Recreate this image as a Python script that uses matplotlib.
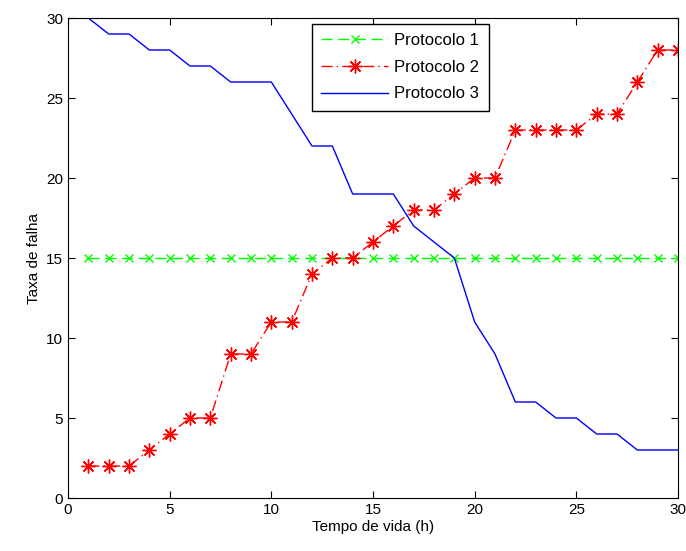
import numpy as np
import matplotlib.pyplot as plt

# hours 1..30
tempo = list(range(1, 31))
protocolo1 = [15] * 30
protocolo2 = [2, 2, 2, 3, 4, 5, 5, 9, 9, 11, 11, 14, 15, 15, 16,
              17, 18, 18, 19, 20, 20, 23, 23, 23, 23, 24, 24, 26, 28, 28]
protocolo3 = [30, 29, 29, 28, 28, 27, 27, 26, 26, 26, 24, 22, 22, 19, 19,
              19, 17, 16, 15, 11, 9, 6, 6, 5, 5, 4, 4, 3, 3, 3]

plt.rcParams['font.family'] = ['Liberation Sans', 'DejaVu Sans']

fig = plt.figure(figsize=(6.86, 5.51), dpi=100)
ax = fig.add_axes([68 / 686, 53 / 551, 610 / 686, 480 / 551])

# matlab-like asterisk marker
asterisk = (8, 2, 0)

ax.plot(tempo, protocolo1, color='#00ff00', linestyle='--', dashes=(8, 4),
        marker='x', markersize=6, linewidth=1, label='Protocolo 1')
ax.plot(tempo, protocolo2, color='#ff0000', linestyle='-.', dashes=(8, 3, 1, 3),
        marker=asterisk, markersize=10, markeredgewidth=1, linewidth=1,
        label='Protocolo 2')
ax.plot(tempo, protocolo3, color='#0000ff', linestyle='-', linewidth=1,
        label='Protocolo 3')

ax.set_xlim(0, 30)
ax.set_ylim(0, 30)
ax.set_xticks(np.arange(0, 31, 5))
ax.set_yticks(np.arange(0, 31, 5))
ax.tick_params(direction='in', top=True, right=True, labelsize=11, length=5)
ax.set_xlabel('Tempo de vida (h)', fontsize=11, labelpad=2)
ax.set_ylabel('Taxa de falha', fontsize=11, labelpad=4)

leg = ax.legend(loc='upper left', bbox_to_anchor=(0.4, 0.9875), fontsize=12,
                fancybox=False, framealpha=1, edgecolor='black',
                borderaxespad=0, handlelength=4, handletextpad=0.4,
                borderpad=0.55, labelspacing=0.7)
leg.get_frame().set_linewidth(1)

fig.savefig('out.png', dpi=100)
